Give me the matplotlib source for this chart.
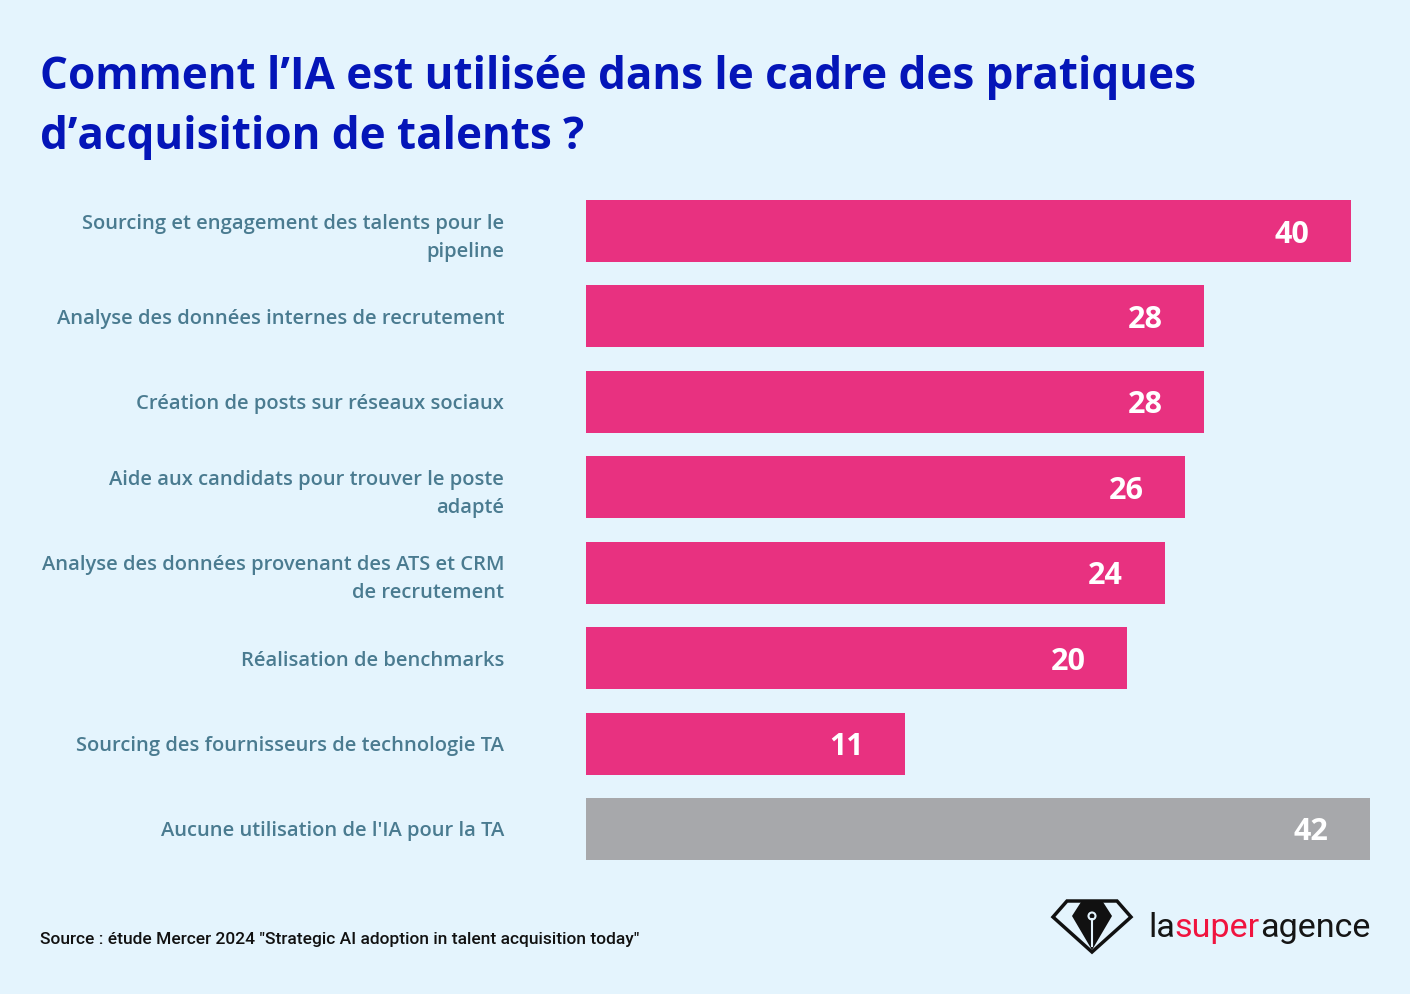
import numpy as np
import matplotlib.pyplot as plt
from matplotlib.patches import Polygon, Circle

categories = [
    "Sourcing et engagement des talents pour le\npipeline",
    "Analyse des données internes de recrutement",
    "Création de posts sur réseaux sociaux",
    "Aide aux candidats pour trouver le poste\nadapté",
    "Analyse des données provenant des ATS et CRM\nde recrutement",
    "Réalisation de benchmarks",
    "Sourcing des fournisseurs de technologie TA",
    "Aucune utilisation de l'IA pour la TA",
]
values = [40, 28, 28, 26, 24, 20, 11, 42]
# bar lengths as drawn in the original (not proportional to the labels)
bar_lengths = [41.0, 33.1, 33.1, 32.1, 31.0, 29.0, 17.1, 42.0]
bar_colors = ["#e83180"] * 7 + ["#a7a8ab"]

title = "Comment l’IA est utilisée dans le cadre des pratiques\nd’acquisition de talents ?"
source = 'Source : étude Mercer 2024 "Strategic AI adoption in talent acquisition today"'

BG = "#e4f4fd"
W, H = 1410, 994
fig = plt.figure(figsize=(W / 100, H / 100), dpi=100, facecolor=BG)

# bar axes, placed in pixels
ax = fig.add_axes([586 / W, 122.3 / H, 784 / W, 683.4 / H])
ax.set_facecolor("none")
y = np.arange(len(values))
ax.barh(y, bar_lengths, height=0.726, color=bar_colors)
ax.set_xlim(0, 42)
ax.set_ylim(len(values) - 0.5, -0.5)
ax.set_yticks(y)
ax.set_yticklabels(categories, fontsize=14.5, family="Open Sans", fontweight="semibold",
                   color="#4a7b90", linespacing=1.55)
ax.tick_params(axis="y", length=0, pad=59)
ax.set_xticks([])
for s in ax.spines.values():
    s.set_visible(False)
for yi, v, l in zip(y, values, bar_lengths):
    ax.annotate(str(v), (l, yi), xytext=(-30, 0), textcoords="offset points",
                ha="right", va="center_baseline", color="white", fontsize=22,
                fontweight="bold", family="Open Sans")

# overlay in pixel coordinates for title, source, logo
ov = fig.add_axes([0, 0, 1, 1])
ov.set_xlim(0, W)
ov.set_ylim(H, 0)
ov.axis("off")
ov.patch.set_alpha(0)

ov.text(40, 89, title.split("\n")[0], fontsize=31.7, fontweight="bold",
        family="Open Sans", color="#0415b8", va="baseline")
ov.text(40, 149, title.split("\n")[1], fontsize=31.7, fontweight="bold",
        family="Open Sans", color="#0415b8", va="baseline")
ov.text(40, 944, source, fontsize=12.5, family="Roboto", fontweight="medium",
        color="#111111", va="baseline")

# logo: diamond with pen nib
ov.add_patch(Polygon([(1067, 901), (1117, 901), (1131, 917), (1092, 952), (1053, 917)],
                     closed=True, fill=False, ec="#111111", lw=2.5, joinstyle="miter"))
ov.add_patch(Polygon([(1081, 902), (1103, 902), (1112, 916), (1092, 950), (1072, 916)],
                     closed=True, fc="#111111", ec="none"))
ov.plot([1092, 1092], [919, 946], color=BG, lw=1.5)
ov.add_patch(Circle((1092, 916), 3.5, fc="#111111", ec=BG, lw=1.5))

fig.canvas.draw()
r = fig.canvas.get_renderer()
x = 1148
for part, c in [("la", "#151515"), ("super", "#f0143f"), ("agence", "#151515")]:
    t = ov.text(x, 937, part, fontsize=24.6, family="Roboto", color=c, va="baseline")
    bb = t.get_window_extent(renderer=r)
    x += bb.width

fig.savefig("out.png", dpi=100, facecolor=BG)
